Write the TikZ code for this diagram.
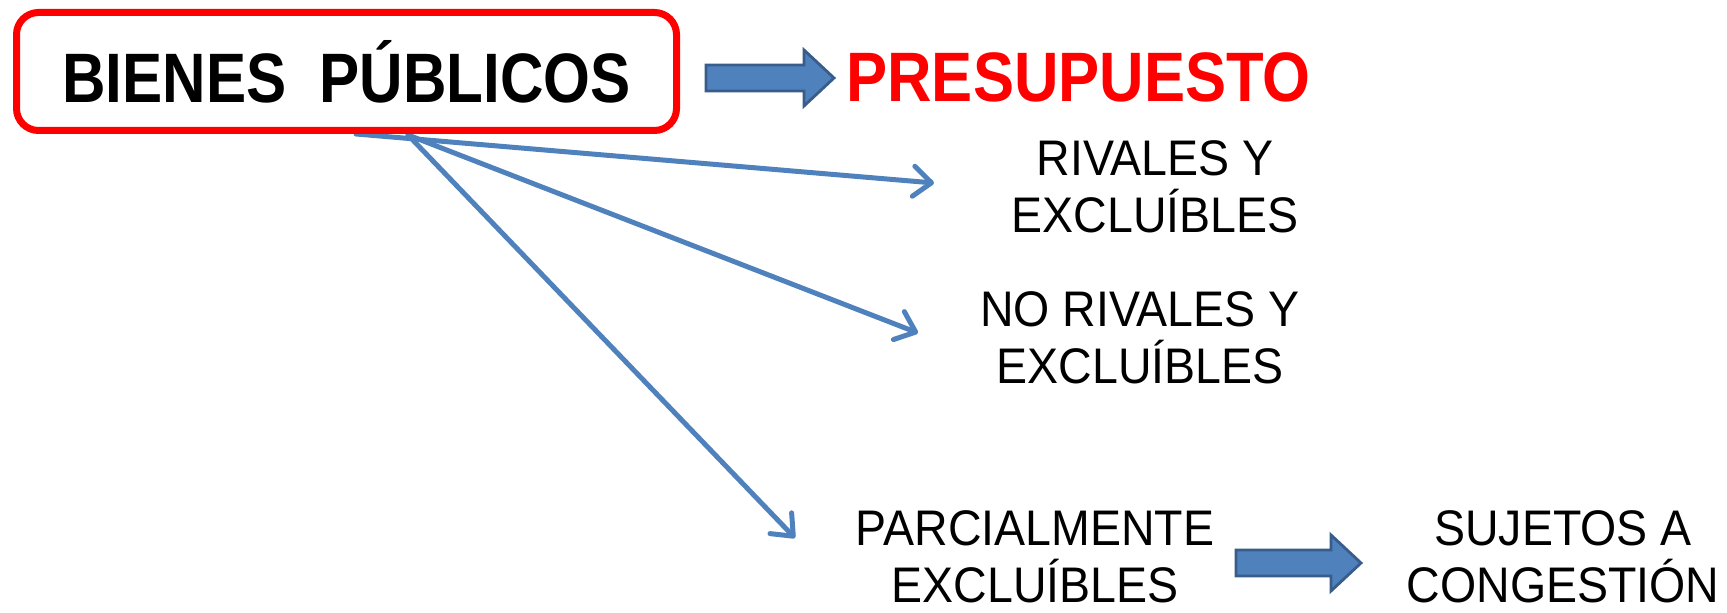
\documentclass[tikz,border=0pt]{standalone}
\usepackage{fontspec}
\setmainfont{Liberation Sans}[FakeStretch=0.93]
\newfontfamily\titulofont{Liberation Sans}[FakeStretch=0.88]
\usepackage{tikz}
\usetikzlibrary{positioning,arrows.meta,calc}
\definecolor{azul}{HTML}{4F81BD}
\definecolor{azuloscuro}{HTML}{385D8A}
\definecolor{rojo}{HTML}{FF0000}
\newcommand{\flecha}[2]{%
  \draw[bloque] ($(#1)+(0,-13)$) -- ($(#2)+(-30,-13)$) -- ($(#2)+(-30,-28)$) -- (#2)
    -- ($(#2)+(-30,28)$) -- ($(#2)+(-30,13)$) -- ($(#1)+(0,13)$) -- cycle;}

\begin{document}
\begin{tikzpicture}[x=0.5pt,y=-0.5pt,
    caja/.style={draw=rojo,line width=3.5pt,rounded corners=11pt,fill=white,
        minimum width=330pt,minimum height=59pt,inner sep=0pt,
        font=\titulofont\bfseries\fontsize{35}{40}\selectfont},
    texto/.style={align=center,inner sep=0pt,font=\fontsize{25}{28.5}\selectfont},
    rama/.style={azul,line width=2.5pt,line cap=round,
        -{Straight Barb[length=9pt,width=15pt,line cap=round,line join=round]}},
    bloque/.style={fill=azul,draw=azuloscuro,line width=1.4pt}]
    \useasboundingbox (0,0) rectangle (1727,613);

    % 
    \coordinate (o1) at (356,134);
    \coordinate (o2) at (408,135);
    \coordinate (t1) at (934,183);
    \coordinate (t2) at (918,333);
    \coordinate (t3) at (795,538);
    \draw[rama] (o1) -- (t1);
    \draw[rama] (o2) -- (t2);
    \draw[rama] (o2) -- (t3);

    % 
    \node[caja] (bienes) at (346.5,71.5) {\fontspec{Liberation Sans}[FakeStretch=0.86]BIENES~ PÚBLICOS};
    \node[anchor=west,inner sep=0pt,text=rojo,
        font=\titulofont\bfseries\fontsize{35}{40}\selectfont] (presupuesto) at (846,77) {PRESUPUESTO};

    % 
    \node[texto] (rivales) at (1155,187) {RIVALES Y\\EXCLUÍBLES};
    \node[texto] (norivales) at (1140,338) {NO RIVALES Y\\EXCLUÍBLES};
    \node[texto] (parcial) at (1035,557) {PARCIALMENTE\\EXCLUÍBLES};
    \node[texto] (congestion) at (1563,557) {SUJETOS A\\CONGESTIÓN};

    % 
    \coordinate (f1a) at (706,78);
    \coordinate (f1b) at (834,78);
    \coordinate (f2a) at (1236,563);
    \coordinate (f2b) at (1361,563);
    \flecha{f1a}{f1b}
    \flecha{f2a}{f2b}
\end{tikzpicture}
\end{document}
